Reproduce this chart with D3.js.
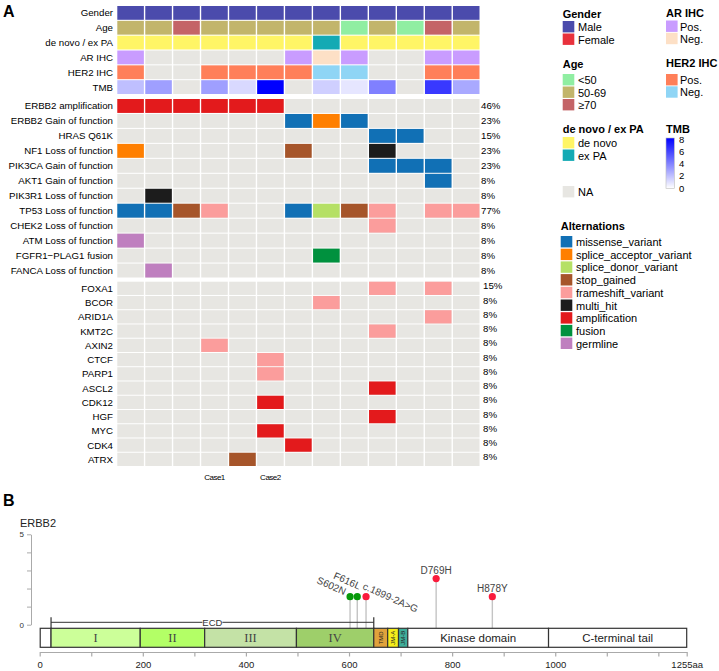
<!DOCTYPE html>
<html><head><meta charset="utf-8">
<script src="https://cdn.jsdelivr.net/npm/d3@7"></script>
<style>body{margin:0;background:#fff;} svg{display:block;font-family:"Liberation Sans",Arial,sans-serif;}</style>
</head><body>
<svg id="c" width="719" height="671"></svg>
<script>
// ---------------- DATA ----------------
const samples = ["S1","S2","S3","S4","S5","S6","S7","S8","S9","S10","S11","S12","S13"];
const sampleCaseLabels = ["","","","Case1","","Case2","","","","","","",""];

const annotationNames = ["Gender","Age","de novo / ex PA","AR IHC","HER2 IHC","TMB"];
const gender = ["Male","Male","Male","Male","Male","Male","Male","Male","Male","Male","Male","Male","Male"];
const age = ["50-69","50-69","≥70","50-69","50-69","50-69","50-69","50-69","<50","50-69","<50","≥70","50-69"];
const origin = ["de novo","de novo","de novo","de novo","de novo","de novo","de novo","ex PA","de novo","de novo","de novo","de novo","de novo"];
const arIHC = ["Pos.","NA","NA","NA","NA","NA","Pos.","Neg.","Pos.","NA","NA","Pos.","Pos."];
const her2IHC = ["Pos.","NA","NA","Pos.","Pos.","Pos.","Pos.","Neg.","Neg.","NA","NA","Pos.","Pos."];
const tmb = [2, 3, null, 3, 1.2, 8, null, 1.5, 0.8, 4, null, 6.2, 2.7];
const tmbTicks = [0, 2, 4, 6, 8];

const genesGroup1 = ["ERBB2 amplification","ERBB2 Gain of function","HRAS Q61K","NF1 Loss of function",
  "PIK3CA Gain of function","AKT1 Gain of function","PIK3R1 Loss of function","TP53 Loss of function",
  "CHEK2 Loss of function","ATM Loss of function","FGFR1\u2212PLAG1 fusion","FANCA Loss of function"];
const genesGroup2 = ["FOXA1","BCOR","ARID1A","KMT2C","AXIN2","CTCF","PARP1","ASCL2","CDK12","HGF","MYC","CDK4","ATRX"];

// [gene, sample index, alteration]
const alterations = [
  ["ERBB2 amplification",0,"amplification"],["ERBB2 amplification",1,"amplification"],
  ["ERBB2 amplification",2,"amplification"],["ERBB2 amplification",3,"amplification"],
  ["ERBB2 amplification",4,"amplification"],["ERBB2 amplification",5,"amplification"],
  ["ERBB2 Gain of function",6,"missense_variant"],["ERBB2 Gain of function",7,"splice_acceptor_variant"],
  ["ERBB2 Gain of function",8,"missense_variant"],
  ["HRAS Q61K",9,"missense_variant"],["HRAS Q61K",10,"missense_variant"],
  ["NF1 Loss of function",0,"splice_acceptor_variant"],["NF1 Loss of function",6,"stop_gained"],
  ["NF1 Loss of function",9,"multi_hit"],
  ["PIK3CA Gain of function",9,"missense_variant"],["PIK3CA Gain of function",10,"missense_variant"],
  ["PIK3CA Gain of function",11,"missense_variant"],
  ["AKT1 Gain of function",11,"missense_variant"],
  ["PIK3R1 Loss of function",1,"multi_hit"],
  ["TP53 Loss of function",0,"missense_variant"],["TP53 Loss of function",1,"missense_variant"],
  ["TP53 Loss of function",2,"stop_gained"],["TP53 Loss of function",3,"frameshift_variant"],
  ["TP53 Loss of function",6,"missense_variant"],["TP53 Loss of function",7,"splice_donor_variant"],
  ["TP53 Loss of function",8,"stop_gained"],["TP53 Loss of function",9,"frameshift_variant"],
  ["TP53 Loss of function",11,"frameshift_variant"],["TP53 Loss of function",12,"frameshift_variant"],
  ["CHEK2 Loss of function",9,"frameshift_variant"],
  ["ATM Loss of function",0,"germline"],
  ["FGFR1\u2212PLAG1 fusion",7,"fusion"],
  ["FANCA Loss of function",1,"germline"],
  ["FOXA1",9,"frameshift_variant"],["FOXA1",11,"frameshift_variant"],
  ["BCOR",7,"frameshift_variant"],
  ["ARID1A",11,"frameshift_variant"],
  ["KMT2C",9,"frameshift_variant"],
  ["AXIN2",3,"frameshift_variant"],
  ["CTCF",5,"frameshift_variant"],
  ["PARP1",5,"frameshift_variant"],
  ["ASCL2",9,"amplification"],
  ["CDK12",5,"amplification"],
  ["HGF",9,"amplification"],
  ["MYC",5,"amplification"],
  ["CDK4",6,"amplification"],
  ["ATRX",4,"stop_gained"]
];

const alterationTypes = ["missense_variant","splice_acceptor_variant","splice_donor_variant","stop_gained",
  "frameshift_variant","multi_hit","amplification","fusion","germline"];
const alterationColors = ["#1170b5","#ff7f00","#b5e065","#a6552a","#fb9d9c","#1c1c1c","#e31a1c","#00913e","#bf7fbf"];

const genderLevels = ["Male","Female"], genderColors = ["#4b4bac","#e8313c"];
const ageLevels = ["<50","50-69","≥70"], ageColors = ["#90eea2","#c2b56b","#c46467"];
const originLevels = ["de novo","ex PA"], originColors = ["#fff566","#14aab4"];
const ihcLevels = ["Pos.","Neg."];
const arColors = ["#c99cff","#fde0c6"];
const her2Colors = ["#ff7f59","#8fd5f5"];
const naColor = "#e7e6e2";

// Panel B: ERBB2 protein
const proteinLength = 1255;
const domainNames = ["","I","II","III","IV","TMD","JM-A","JM-B","Kinase domain","C-terminal tail"];
const domainStart = [1, 22, 195, 320, 498, 648, 675, 696, 714, 987];
const domainEnd   = [22, 195, 320, 498, 648, 675, 696, 714, 987, 1255];
const domainColors = ["#ffffff","#ccff99","#b3ff66","#c4e2a6","#9ecf6a","#e0a23c","#f5ee1a","#40ae9a","#ffffff","#ffffff"];
const ecdRange = [22, 648];
const mutLabels = ["S602N","F616L","c.1899-2A>G","D769H","H878Y"];
const mutPos = [602, 616, 633, 769, 878];
const mutScore = [1.55, 1.55, 1.55, 2.55, 1.55];
const mutGroup = ["ECD","ECD","other","other","other"];
const xMajorTicks = [0, 200, 400, 600, 800, 1000, 1255];
const xMinorTicks = [100, 300, 500, 700, 900, 1100, 1200];
const yTicks = [0, 1, 2, 3, 4, 5];

// ---------------- DRAW ----------------
const svg = d3.select("#c");
const labelFont = 9.7;

svg.append("text").attr("x", 3).attr("y", 17).attr("font-size", 16).attr("font-weight", "bold").text("A");
svg.append("text").attr("x", 3).attr("y", 506).attr("font-size", 16).attr("font-weight", "bold").text("B");

const x = d3.scaleBand().domain(samples).range([117.3, 479.5]).paddingInner(0.05);
const yAnn = d3.scaleBand().domain(annotationNames).range([6, 94]).paddingInner(0.07);
const yG1 = d3.scaleBand().domain(genesGroup1).range([99, 277.5]).paddingInner(0.07);
const yG2 = d3.scaleBand().domain(genesGroup2).range([281.7, 466]).paddingInner(0.07);

const altColor = d3.scaleOrdinal().domain(alterationTypes).range(alterationColors);
const tmbColor = d3.scaleLinear().domain([0, 8]).range(["#ffffff", "#0000ff"]);
const genderColor = d3.scaleOrdinal().domain(genderLevels).range(genderColors);
const ageColor = d3.scaleOrdinal().domain(ageLevels).range(ageColors);
const originColor = d3.scaleOrdinal().domain(originLevels).range(originColors);
const arColor = d3.scaleOrdinal().domain(ihcLevels).range(arColors);
const her2Color = d3.scaleOrdinal().domain(ihcLevels).range(her2Colors);

const annData = [
  ["Gender", gender, v => genderColor(v)],
  ["Age", age, v => ageColor(v)],
  ["de novo / ex PA", origin, v => originColor(v)],
  ["AR IHC", arIHC, v => v === "NA" ? naColor : arColor(v)],
  ["HER2 IHC", her2IHC, v => v === "NA" ? naColor : her2Color(v)],
  ["TMB", tmb, v => v == null ? naColor : tmbColor(v)]
];
const gA = svg.append("g");
annData.forEach(([name, vals, col]) => {
  gA.selectAll(null).data(vals).enter().append("rect")
    .attr("x", (d, i) => x(samples[i])).attr("y", yAnn(name))
    .attr("width", x.bandwidth()).attr("height", yAnn.bandwidth())
    .attr("fill", d => col(d));
  gA.append("text").attr("x", 113).attr("y", yAnn(name) + yAnn.bandwidth() / 2)
    .attr("text-anchor", "end").attr("dominant-baseline", "central")
    .attr("font-size", labelFont).text(name);
});

function drawGroup(genes, yS, pctDx, pctDy) {
  const g = svg.append("g");
  genes.forEach(gene => {
    g.selectAll(null).data(samples).enter().append("rect")
      .attr("x", d => x(d)).attr("y", yS(gene))
      .attr("width", x.bandwidth()).attr("height", yS.bandwidth()).attr("fill", naColor);
    const alts = alterations.filter(a => a[0] === gene);
    g.selectAll(null).data(alts).enter().append("rect")
      .attr("x", d => x(samples[d[1]])).attr("y", yS(gene))
      .attr("width", x.bandwidth()).attr("height", yS.bandwidth())
      .attr("fill", d => altColor(d[2]));
    const n = new Set(alts.map(a => a[1])).size;
    g.append("text").attr("x", 113).attr("y", yS(gene) + yS.bandwidth() / 2)
      .attr("text-anchor", "end").attr("dominant-baseline", "central")
      .attr("font-size", labelFont).text(gene);
    g.append("text").attr("x", 481 + pctDx).attr("y", yS(gene) + yS.bandwidth() / 2 + pctDy)
      .attr("dominant-baseline", "central").attr("font-size", labelFont)
      .text(Math.round(n / samples.length * 100) + "%");
  });
}
drawGroup(genesGroup1, yG1, 0, 0);
drawGroup(genesGroup2, yG2, 2, -2.5);

svg.append("g").selectAll("text").data(samples.filter((s, i) => sampleCaseLabels[i]))
  .enter().append("text")
  .attr("x", d => x(d) + x.bandwidth() / 2).attr("y", 477)
  .attr("text-anchor", "middle").attr("dominant-baseline", "central")
  .attr("font-size", 8).attr("letter-spacing", -0.5)
  .text(d => sampleCaseLabels[samples.indexOf(d)]);

// ---------- legends ----------
const L = svg.append("g").attr("font-size", 11);
function legendTitle(tx, ty, t) {
  L.append("text").attr("x", tx).attr("y", ty).attr("dominant-baseline", "central")
    .attr("font-weight", "bold").text(t);
}
function legendItems(sx, sy, labels, colors, tx, pitch) {
  labels.forEach((lab, i) => {
    L.append("rect").attr("x", sx).attr("y", sy + i * pitch).attr("width", 11.6).attr("height", 11.4)
      .attr("fill", colors[i]);
    L.append("text").attr("x", tx).attr("y", sy + i * pitch + 6).attr("dominant-baseline", "central").text(lab);
  });
}
legendTitle(562.7, 14, "Gender");
legendItems(562.7, 21, genderLevels, genderColors, 578, 12.5);
legendTitle(562.7, 64, "Age");
legendItems(562.7, 74, ageLevels, ageColors, 578, 12.5);
legendTitle(562.7, 129.3, "de novo / ex PA");
legendItems(562.7, 137, originLevels, originColors, 578, 12.5);
legendItems(562.7, 186, ["NA"], [naColor], 578, 12.5);
legendTitle(666, 13.3, "AR IHC");
legendItems(666, 20.5, ihcLevels, arColors, 680, 12.3);
legendTitle(666, 63.3, "HER2 IHC");
legendItems(666, 74, ihcLevels, her2Colors, 680, 12.3);
legendTitle(666, 129, "TMB");
const defs = svg.append("defs");
const grad = defs.append("linearGradient").attr("id", "tmbg").attr("x1", 0).attr("y1", 1).attr("x2", 0).attr("y2", 0);
grad.append("stop").attr("offset", "0%").attr("stop-color", tmbColor(0));
grad.append("stop").attr("offset", "100%").attr("stop-color", tmbColor(8));
const tmbY = d3.scaleLinear().domain([0, 8]).range([188, 139.5]);
L.append("rect").attr("x", 666).attr("y", 138).attr("width", 8.3).attr("height", 50.3)
  .attr("fill", "url(#tmbg)").attr("stroke", "#bbb").attr("stroke-width", 0.6);
tmbTicks.forEach(t => {
  L.append("text").attr("x", 679).attr("y", tmbY(t)).attr("dominant-baseline", "central")
    .attr("font-size", 9.5).text(t);
});
legendTitle(560.7, 225.7, "Alternations");
legendItems(560.7, 236, alterationTypes, alterationColors, 576, 12.7);

// ---------- Panel B ----------
const xP = d3.scaleLinear().domain([0, proteinLength]).range([39.7, 686.7]);
const yP = d3.scaleLinear().domain([0, 5]).range([624.7, 534.3]);
const B = svg.append("g");

B.append("text").attr("x", 20).attr("y", 523).attr("dominant-baseline", "central")
  .attr("font-size", 11).attr("fill", "#222").text("ERBB2");

// y axis
const yAx = B.append("g").attr("transform", "translate(31,0)")
  .call(d3.axisLeft(yP).tickValues(yTicks).tickSize(4).tickSizeOuter(0)
    .tickFormat(d => (d === 0 || d === 5) ? d : ""));
yAx.selectAll("path,line").attr("stroke", "#aaa");
yAx.selectAll("text").attr("font-size", 8).attr("fill", "#333").attr("font-family", "Liberation Sans, Arial, sans-serif");

// x axis
const xAx = B.append("g").attr("transform", "translate(0,652)")
  .call(d3.axisBottom(xP).tickValues(xMajorTicks.concat(xMinorTicks)).tickSize(4.5).tickSizeOuter(0)
    .tickFormat(d => xMajorTicks.includes(d) ? (d === proteinLength ? d + "aa" : d) : ""));
xAx.selectAll("path,line").attr("stroke", "#aaa").attr("stroke-width", 1.2);
xAx.selectAll("text").attr("font-size", 9.5).attr("fill", "#222").attr("dy", "0.9em")
  .attr("font-family", "Liberation Sans, Arial, sans-serif");

// stems
const barTop = 628.3, barBottom = 647.3;
B.selectAll(null).data(mutPos).enter().append("line")
  .attr("x1", d => xP(d)).attr("x2", d => xP(d))
  .attr("y1", barTop).attr("y2", (d, i) => yP(mutScore[i]))
  .attr("stroke", "#c4c4c4").attr("stroke-width", 1.4);

// ECD bracket
const ecdY = 622.3;
B.append("line").attr("x1", xP(ecdRange[0])).attr("x2", xP(ecdRange[1])).attr("y1", ecdY).attr("y2", ecdY)
  .attr("stroke", "#333").attr("stroke-width", 1);
ecdRange.forEach(v => B.append("line").attr("x1", xP(v)).attr("x2", xP(v)).attr("y1", 617.3).attr("y2", barTop)
  .attr("stroke", "#333").attr("stroke-width", 1.2));
const ecdMid = xP((ecdRange[0] + ecdRange[1]) / 2);
B.append("rect").attr("x", ecdMid - 10).attr("y", ecdY - 4.5).attr("width", 20).attr("height", 9).attr("fill", "#fff");
B.append("text").attr("x", ecdMid).attr("y", ecdY).attr("text-anchor", "middle").attr("dominant-baseline", "central")
  .attr("font-size", 9.5).attr("fill", "#333").text("ECD");

// domains
B.selectAll(null).data(domainNames).enter().append("rect")
  .attr("x", (d, i) => xP(domainStart[i])).attr("y", barTop)
  .attr("width", (d, i) => xP(domainEnd[i]) - xP(domainStart[i])).attr("height", barBottom - barTop)
  .attr("fill", (d, i) => domainColors[i]).attr("stroke", "#333").attr("stroke-width", 1.2);
domainNames.forEach((n, i) => {
  if (!n) return;
  const cx = (xP(domainStart[i]) + xP(domainEnd[i])) / 2, cy = (barTop + barBottom) / 2;
  const small = ["TMD", "JM-A", "JM-B"].includes(n);
  const roman = ["I", "II", "III", "IV"].includes(n);
  const t = B.append("text").attr("x", cx).attr("y", cy).attr("text-anchor", "middle")
    .attr("dominant-baseline", "central").attr("fill", "#222").text(n);
  if (small) t.attr("font-size", 6).attr("transform", `rotate(-90,${cx},${cy})`);
  else if (roman) t.attr("font-size", 12.5).attr("font-family", "Liberation Serif, Times New Roman, serif").attr("fill", "#444");
  else t.attr("font-size", 11.5);
});

// lollipop heads
const mutColor = d3.scaleOrdinal().domain(["ECD", "other"]).range(["#079a0a", "#fa1b3c"]);
B.selectAll(null).data(mutPos).enter().append("circle")
  .attr("cx", d => xP(d)).attr("cy", (d, i) => yP(mutScore[i])).attr("r", 3.6)
  .attr("fill", (d, i) => mutColor(mutGroup[i]));

// labels
const lblSpec = [
  {anchor: "end", dx: -6, dy: -1.5, rot: 24},
  {anchor: "end", dx: 1.5, dy: -7, rot: 24},
  {anchor: "start", dx: -4, dy: -8, rot: 24},
  {anchor: "middle", dx: 0, dy: -8.5, rot: 0},
  {anchor: "middle", dx: 0, dy: -8.5, rot: 0}
];
mutLabels.forEach((lab, i) => {
  const s = lblSpec[i];
  const px = xP(mutPos[i]) + s.dx, py = yP(mutScore[i]) + s.dy;
  B.append("text").attr("x", px).attr("y", py).attr("text-anchor", s.anchor)
    .attr("dominant-baseline", s.rot ? "auto" : "central")
    .attr("font-size", 10).attr("fill", "#444")
    .attr("transform", s.rot ? `rotate(${s.rot},${px},${py})` : null).text(lab);
});
</script>
</body></html>
